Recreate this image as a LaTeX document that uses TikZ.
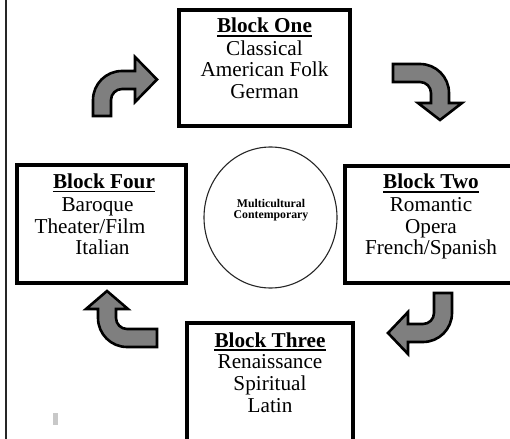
\documentclass[tikz,border=0pt]{standalone}
\usepackage{fontspec}
\setmainfont{Liberation Serif}
\usetikzlibrary{shapes.geometric}
\definecolor{arrowgray}{HTML}{7F7F7F}
\definecolor{markgray}{HTML}{C8C8C8}
\tikzset{
  blockbox/.style={draw=black, line width=4pt, inner sep=0pt},
  txt/.style={inner sep=0pt, anchor=base, font=\fontsize{21.2}{22}\selectfont},
  headtxt/.style={txt, font=\fontsize{21.2}{22}\selectfont\bfseries},
  uline/.style={draw=black, line width=1.3pt},
  ctxt/.style={inner sep=0pt, anchor=base, font=\fontsize{11.8}{12}\selectfont\bfseries},
  bentarrow/.style={draw=black, fill=arrowgray, line width=2.6pt, line join=miter},
  centre/.style={draw=black!85, line width=1.1pt, ellipse, inner sep=0pt},
}
\begin{document}
\begin{tikzpicture}[x=1pt,y=-1pt]
\clip (0,0) rectangle (510,438);
\fill[white] (0,0) rectangle (510,438);
% left rule
\draw[line width=2.3pt, black!85] (6,-2) coordinate (lt) -- (6,440) coordinate (lb);
% boxes
\node[blockbox, minimum width=171pt, minimum height=116pt] (b1) at (264.5,68) {};
\node[blockbox, minimum width=172pt, minimum height=117pt] (b2) at (431,224.5) {};
\node[blockbox, minimum width=166pt, minimum height=124pt] (b3) at (270,385) {};
\node[blockbox, minimum width=169pt, minimum height=118pt] (b4) at (101.5,224) {};
% centre ellipse
\node[centre, minimum width=133pt, minimum height=141pt] (c) at (270.5,217.5) {};
\node[ctxt] (c1) at (271,207) {Multicultural};
\node[ctxt] (c2) at (271,218.5) {Contemporary};
% Block One
\node[headtxt] (h1) at (264.5,33) {Block One};
\draw[uline] ([yshift=-3pt]h1.base west) -- ([yshift=-3pt]h1.base east);
\node[txt] (t11) at (264.5,55.5) {Classical};
\node[txt] (t12) at (264.5,77) {American Folk};
\node[txt] (t13) at (264.5,99) {German};
% Block Two
\node[headtxt] (h2) at (431,189) {Block Two};
\draw[uline] ([yshift=-3pt]h2.base west) -- ([yshift=-3pt]h2.base east);
\node[txt] (t21) at (431,211.5) {Romantic};
\node[txt] (t22) at (431,233) {Opera};
\node[txt] (t23) at (431,254.5) {French/Spanish};
% Block Three
\node[headtxt] (h3) at (270,347) {Block Three};
\draw[uline] ([yshift=-3pt]h3.base west) -- ([yshift=-3pt]h3.base east);
\node[txt] (t31) at (270,368.5) {Renaissance};
\node[txt] (t32) at (270,390) {Spiritual};
\node[txt] (t33) at (270,412) {Latin};
% Block Four
\node[headtxt] (h4) at (104,188.5) {Block Four};
\draw[uline] ([yshift=-3pt]h4.base west) -- ([yshift=-3pt]h4.base east);
\node[txt] (t41) at (97.5,211.5) {Baroque};
\node[txt] (t42) at (90,233) {Theater/Film};
\node[txt] (t43) at (102.5,254.5) {Italian};
% bent arrows
% top-left: up then right
\draw[bentarrow] (93,116) -- (93,100) arc[start angle=180, end angle=270, radius=29]
  -- (135,71) -- (135,57) -- (157,79.5) -- (135,102) -- (135,89) -- (122,89)
  arc[start angle=270, end angle=180, radius=11] -- (111,116) -- cycle;
% top-right: right then down
\draw[bentarrow] (393,64) -- (420,64) arc[start angle=270, end angle=360, radius=29]
  -- (449,103) -- (462,103) -- (440,120) -- (418,103) -- (431,103) -- (431,93)
  arc[start angle=0, end angle=-90, radius=11] -- (393,82) -- cycle;
% bottom-right: down then left
\draw[bentarrow] (434,293) -- (452,293) -- (452,313) arc[start angle=0, end angle=90, radius=29]
  -- (408,342) -- (408,354) -- (388,333) -- (408,312) -- (408,324) -- (423,324)
  arc[start angle=90, end angle=0, radius=11] -- cycle;
% bottom-left: left then up
\draw[bentarrow] (157,347) -- (127,347) arc[start angle=90, end angle=180, radius=29]
  -- (98,309) -- (86,309) -- (107,291) -- (128,309) -- (116,309) -- (116,318)
  arc[start angle=180, end angle=90, radius=11] -- (157,329) -- cycle;
% small grey mark
\fill[markgray] (53,413) rectangle (58,425);
\end{tikzpicture}
\end{document}
